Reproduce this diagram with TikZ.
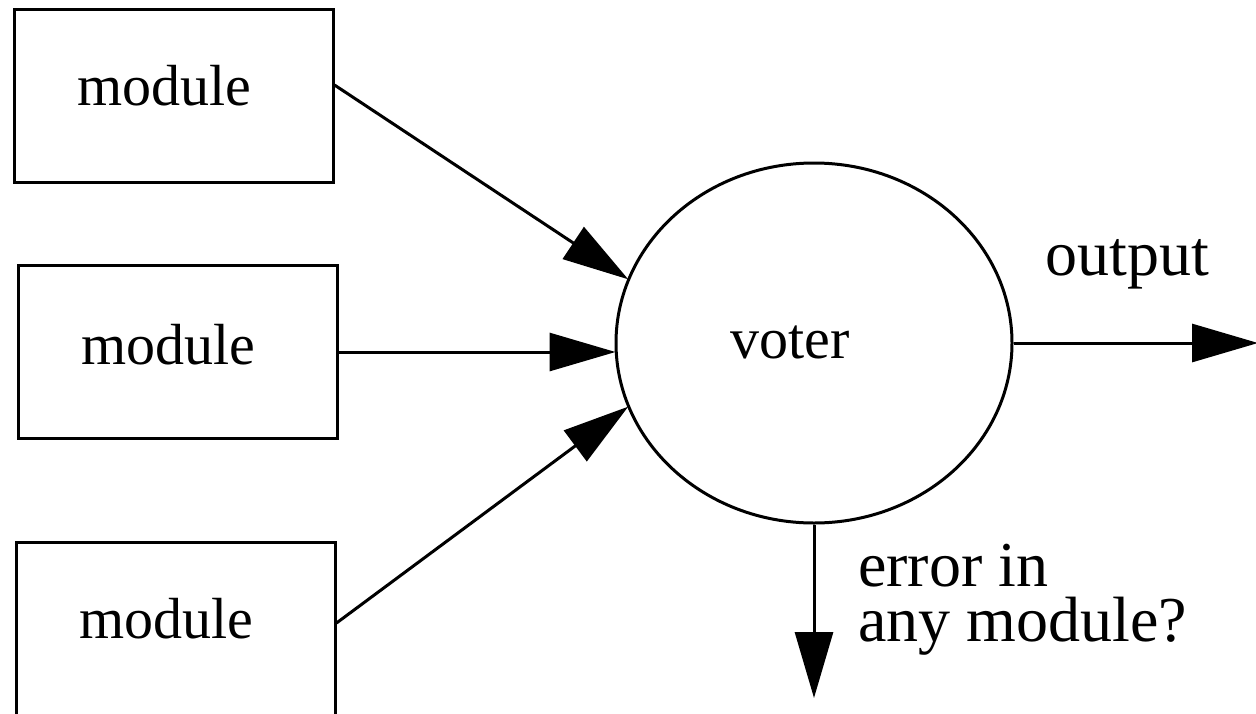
\documentclass[tikz,border=0pt]{standalone}
\usepackage{fontspec}
\setmainfont{Liberation Serif}
\usetikzlibrary{arrows.meta,shapes.geometric}

\tikzset{
  box/.style={draw, line width=3pt, rectangle, minimum width=319pt, minimum height=173pt, inner sep=0pt},
  boxtext/.style={font=\fontsize{58}{66}\selectfont, anchor=base, inner sep=0pt},
  voterbox/.style={draw, line width=3pt, ellipse, minimum width=396pt, minimum height=360pt, inner sep=0pt},
  outtext/.style={font=\fontsize{64}{55}\selectfont, inner sep=0pt},
  flow/.style={line width=3pt, -{Triangle[length=66pt, width=38pt]}, shorten >=-1pt}
}

\begin{document}
\begin{tikzpicture}[x=1pt, y=-1pt]
  \useasboundingbox (0,0) rectangle (1256,713);

  % the three redundant modules
  \node[box] (m1) at (173.5,95.5) {};
  \node[box] (m2) at (177.5,352) {};
  \node[box] (m3) at (175.5,628.5) {};
  \node[boxtext] (t1) at (164.5,105) {module};
  \node[boxtext] (t2) at (168,364) {module};
  \node[boxtext] (t3) at (166,638) {module};

  % majority voter
  \node[voterbox] (v) at (814,343) {};
  \node[boxtext] (vt) at (790,358) {voter};

  % free ends of the outgoing connectors
  \coordinate (out) at (1257,343);
  \coordinate (err) at (814,697);

  % inputs to the voter
  \draw[flow] ([yshift=10.5pt]m1.east) -- (v.161.3);
  \draw[flow] (m2.east) -- (m2.east -| v.west);
  \draw[flow] ([yshift=5.5pt]m3.east) -- (v.199.3);

  % outputs of the voter
  \draw[flow] (v.east) -- (out);
  \draw[flow] (v.south) -- (err);

  \node[outtext, anchor=base] (ol) at (1127,275) {output};
  \node[outtext, anchor=north west, align=left] (el) at (858,544) {error in\\any module?};
\end{tikzpicture}
\end{document}
